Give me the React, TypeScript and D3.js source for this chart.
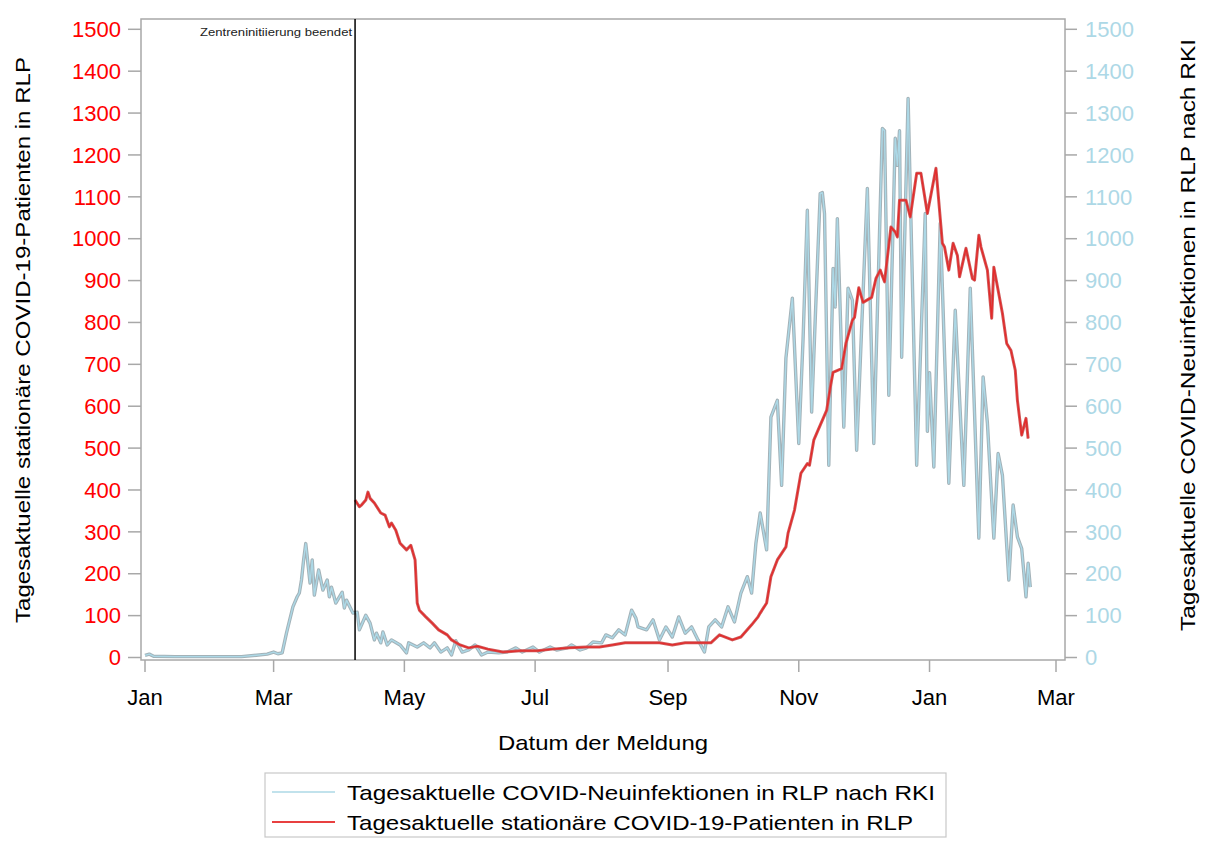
import React from "react";
import * as d3 from "d3";

// Tagesaktuelle COVID-Neuinfektionen in RLP nach RKI (blue, right axis)
const infections: [string, number][] = [
  ["2020-01-01", 5], ["2020-01-03", 8], ["2020-01-05", 3], ["2020-01-15", 2], ["2020-02-01", 2],
  ["2020-02-15", 2], ["2020-02-27", 8], ["2020-03-01", 13], ["2020-03-03", 9], ["2020-03-05", 11],
  ["2020-03-07", 58], ["2020-03-10", 121], ["2020-03-12", 145], ["2020-03-13", 154], ["2020-03-14", 185],
  ["2020-03-15", 233], ["2020-03-16", 272], ["2020-03-18", 178], ["2020-03-19", 233], ["2020-03-20", 149],
  ["2020-03-22", 209], ["2020-03-24", 161], ["2020-03-26", 185], ["2020-03-27", 145], ["2020-03-28", 168],
  ["2020-03-30", 130], ["2020-04-02", 156], ["2020-04-03", 118], ["2020-04-04", 137], ["2020-04-07", 106],
  ["2020-04-09", 108], ["2020-04-10", 66], ["2020-04-13", 101], ["2020-04-15", 82], ["2020-04-17", 42],
  ["2020-04-18", 58], ["2020-04-20", 35], ["2020-04-21", 61], ["2020-04-23", 30], ["2020-04-25", 42],
  ["2020-04-29", 30], ["2020-05-02", 11], ["2020-05-03", 35], ["2020-05-07", 25], ["2020-05-10", 35],
  ["2020-05-13", 23], ["2020-05-15", 35], ["2020-05-18", 13], ["2020-05-21", 23], ["2020-05-23", 6],
  ["2020-05-25", 40], ["2020-05-28", 13], ["2020-05-31", 18], ["2020-06-03", 30], ["2020-06-06", 6],
  ["2020-06-09", 13], ["2020-06-14", 11], ["2020-06-18", 13], ["2020-06-22", 23], ["2020-06-25", 13],
  ["2020-06-30", 25], ["2020-07-03", 13], ["2020-07-08", 25], ["2020-07-11", 18], ["2020-07-16", 23],
  ["2020-07-18", 30], ["2020-07-22", 18], ["2020-07-25", 23], ["2020-07-28", 37], ["2020-08-01", 35],
  ["2020-08-03", 54], ["2020-08-06", 47], ["2020-08-09", 66], ["2020-08-12", 54], ["2020-08-15", 113],
  ["2020-08-17", 94], ["2020-08-18", 73], ["2020-08-22", 66], ["2020-08-25", 90], ["2020-08-28", 42],
  ["2020-08-31", 73], ["2020-09-03", 49], ["2020-09-06", 97], ["2020-09-09", 58], ["2020-09-12", 73],
  ["2020-09-15", 42], ["2020-09-18", 13], ["2020-09-20", 73], ["2020-09-23", 90], ["2020-09-26", 73],
  ["2020-09-29", 121], ["2020-10-02", 85], ["2020-10-05", 154], ["2020-10-08", 193], ["2020-10-10", 154],
  ["2020-10-12", 273], ["2020-10-14", 345], ["2020-10-17", 257], ["2020-10-19", 574], ["2020-10-22", 614],
  ["2020-10-24", 411], ["2020-10-26", 715], ["2020-10-29", 858], ["2020-11-01", 511], ["2020-11-03", 760],
  ["2020-11-05", 1068], ["2020-11-07", 586], ["2020-11-09", 850], ["2020-11-11", 1108], ["2020-11-12", 1110],
  ["2020-11-13", 1060], ["2020-11-15", 459], ["2020-11-17", 929], ["2020-11-18", 837], ["2020-11-19", 1048],
  ["2020-11-22", 550], ["2020-11-24", 882], ["2020-11-26", 853], ["2020-11-28", 495], ["2020-12-03", 1120],
  ["2020-12-06", 511], ["2020-12-10", 1263], ["2020-12-11", 1258], ["2020-12-13", 626], ["2020-12-16", 1240],
  ["2020-12-17", 1175], ["2020-12-18", 1258], ["2020-12-19", 717], ["2020-12-20", 917], ["2020-12-22", 1335],
  ["2020-12-26", 459], ["2020-12-30", 1060], ["2020-12-31", 540], ["2021-01-01", 680], ["2021-01-03", 455],
  ["2021-01-06", 1037], ["2021-01-10", 416], ["2021-01-13", 829], ["2021-01-17", 411], ["2021-01-20", 882],
  ["2021-01-24", 285], ["2021-01-26", 670], ["2021-01-28", 560], ["2021-01-31", 285], ["2021-02-02", 487],
  ["2021-02-04", 435], ["2021-02-07", 185], ["2021-02-09", 364], ["2021-02-11", 288], ["2021-02-13", 260],
  ["2021-02-15", 145], ["2021-02-16", 225], ["2021-02-17", 168],
];

// Tagesaktuelle stationäre COVID-19-Patienten in RLP (red, left axis)
const patients: [string, number][] = [
  ["2020-04-08", 376], ["2020-04-10", 360], ["2020-04-11", 364], ["2020-04-13", 376], ["2020-04-14", 395],
  ["2020-04-15", 380], ["2020-04-17", 369], ["2020-04-20", 345], ["2020-04-22", 340], ["2020-04-24", 312],
  ["2020-04-25", 321], ["2020-04-27", 304], ["2020-04-29", 273], ["2020-05-02", 257], ["2020-05-04", 268],
  ["2020-05-06", 233], ["2020-05-07", 130], ["2020-05-08", 113], ["2020-05-11", 97], ["2020-05-14", 82],
  ["2020-05-17", 66], ["2020-05-21", 54], ["2020-05-23", 42], ["2020-05-27", 30], ["2020-05-31", 23],
  ["2020-06-04", 27], ["2020-06-09", 20], ["2020-06-16", 13], ["2020-06-24", 16], ["2020-07-02", 16],
  ["2020-07-09", 20], ["2020-07-17", 23], ["2020-07-25", 25], ["2020-07-31", 25], ["2020-08-06", 30],
  ["2020-08-12", 35], ["2020-08-22", 35], ["2020-08-28", 35], ["2020-09-03", 30], ["2020-09-09", 35],
  ["2020-09-17", 35], ["2020-09-21", 35], ["2020-09-25", 54], ["2020-10-01", 42], ["2020-10-05", 49],
  ["2020-10-10", 78], ["2020-10-13", 97], ["2020-10-14", 106], ["2020-10-17", 130], ["2020-10-19", 193],
  ["2020-10-22", 233], ["2020-10-26", 264], ["2020-10-27", 297], ["2020-10-30", 352], ["2020-11-02", 440],
  ["2020-11-05", 463], ["2020-11-06", 459], ["2020-11-08", 519], ["2020-11-10", 543], ["2020-11-14", 590],
  ["2020-11-16", 654], ["2020-11-17", 681], ["2020-11-21", 690], ["2020-11-23", 750], ["2020-11-26", 805],
  ["2020-11-27", 812], ["2020-11-29", 883], ["2020-12-01", 848], ["2020-12-05", 860], ["2020-12-07", 905],
  ["2020-12-09", 925], ["2020-12-11", 897], ["2020-12-14", 1028], ["2020-12-16", 1016], ["2020-12-17", 1004],
  ["2020-12-18", 1092], ["2020-12-21", 1092], ["2020-12-23", 1052], ["2020-12-26", 1156], ["2020-12-28", 1156],
  ["2020-12-31", 1060], ["2021-01-04", 1168], ["2021-01-07", 989], ["2021-01-08", 980], ["2021-01-10", 925],
  ["2021-01-12", 989], ["2021-01-14", 960], ["2021-01-15", 909], ["2021-01-18", 977], ["2021-01-21", 905],
  ["2021-01-22", 901], ["2021-01-24", 1008], ["2021-01-25", 980], ["2021-01-28", 925], ["2021-01-30", 810],
  ["2021-01-31", 932], ["2021-02-04", 822], ["2021-02-06", 750], ["2021-02-08", 733], ["2021-02-10", 686],
  ["2021-02-11", 614], ["2021-02-13", 531], ["2021-02-15", 571], ["2021-02-16", 523],
];

const xTickDates = ["2020-01-01", "2020-03-01", "2020-05-01", "2020-07-01", "2020-09-01", "2020-11-01", "2021-01-01", "2021-03-01"];
const xTickLabels = ["Jan", "Mar", "May", "Jul", "Sep", "Nov", "Jan", "Mar"];
const yTicks = [0, 100, 200, 300, 400, 500, 600, 700, 800, 900, 1000, 1100, 1200, 1300, 1400, 1500];
const markerDate = "2020-04-08";
const markerLabel = "Zentreninitiierung beendet";
const seriesLabels = [
  "Tagesaktuelle COVID-Neuinfektionen in RLP nach RKI",
  "Tagesaktuelle stationäre COVID-19-Patienten in RLP",
];
const leftTitle = "Tagesaktuelle stationäre COVID-19-Patienten in RLP";
const rightTitle = "Tagesaktuelle COVID-Neuinfektionen in RLP nach RKI";
const xTitle = "Datum der Meldung";

const parse = d3.timeParse("%Y-%m-%d");

export default function App() {
  const W = 1215, H = 843;
  const frame = { left: 141, right: 1065, top: 19, bottom: 660 };
  const x = d3.scaleTime().domain([parse("2020-01-01")!, parse("2021-03-01")!]).range([145, 1056]);
  const yL = d3.scaleLinear().domain([0, 1500]).range([657.5, 29.3]);
  const yR = d3.scaleLinear().domain([0, 1500]).range([657.5, 29.3]);

  const lineInf = d3.line<[string, number]>().x((d) => x(parse(d[0])!)).y((d) => yR(d[1]));
  const linePat = d3.line<[string, number]>().x((d) => x(parse(d[0])!)).y((d) => yL(d[1]));
  const mx = x(parse(markerDate)!);
  const font = "'Liberation Sans', Arial, sans-serif";
  const axisGray = "#a8a8a8";

  return (
    <svg width={W} height={H} style={{ position: "absolute", left: 0, top: 0, background: "#fff" }} fontFamily={font}>
      {/* frame */}
      <rect x={frame.left} y={frame.top} width={frame.right - frame.left} height={frame.bottom - frame.top}
        fill="none" stroke={axisGray} strokeWidth={1.5} />
      {/* left ticks */}
      {yTicks.map((t) => (
        <g key={"l" + t}>
          <line x1={128} x2={frame.left} y1={yL(t)} y2={yL(t)} stroke={axisGray} strokeWidth={1.5} />
          <text x={121} y={yL(t)} dy="0.35em" textAnchor="end" fontSize={22} fill="#ff0000">{t}</text>
        </g>
      ))}
      {/* right ticks */}
      {yTicks.map((t) => (
        <g key={"r" + t}>
          <line x1={frame.right} x2={1077} y1={yR(t)} y2={yR(t)} stroke={axisGray} strokeWidth={1.5} />
          <text x={1085} y={yR(t)} dy="0.35em" textAnchor="start" fontSize={22} fill="#add8e6">{t}</text>
        </g>
      ))}
      {/* x ticks */}
      {xTickDates.map((d, i) => {
        const px = x(parse(d)!);
        return (
          <g key={"x" + i}>
            <line x1={px} x2={px} y1={frame.bottom} y2={672} stroke={axisGray} strokeWidth={1.5} />
            <text x={px} y={705} textAnchor="middle" fontSize={22} fill="#000">{xTickLabels[i]}</text>
          </g>
        );
      })}
      {/* axis titles */}
      <text transform="translate(30,340) rotate(-90)" textAnchor="middle" fontSize={21} fill="#000"
        textLength={566} lengthAdjust="spacingAndGlyphs">{leftTitle}</text>
      <text transform="translate(1195,335) rotate(-90)" textAnchor="middle" fontSize={21} fill="#000"
        textLength={592} lengthAdjust="spacingAndGlyphs">{rightTitle}</text>
      <text x={603} y={750} textAnchor="middle" fontSize={21} fill="#000"
        textLength={210} lengthAdjust="spacingAndGlyphs">{xTitle}</text>

      {/* series */}
      <path d={lineInf(infections) || ""} fill="none" stroke="#a3b2b8" strokeWidth={3.4} strokeLinejoin="round" />
      <path d={lineInf(infections) || ""} fill="none" stroke="#acd8e6" strokeWidth={1.4} strokeLinejoin="round" />
      <path d={linePat(patients) || ""} fill="none" stroke="#cf5a5a" strokeWidth={3} strokeLinejoin="round" />
      <path d={linePat(patients) || ""} fill="none" stroke="#e42a2a" strokeWidth={1.3} strokeLinejoin="round" />

      {/* marker line */}
      <line x1={mx} x2={mx} y1={frame.top} y2={frame.bottom} stroke="#000" strokeWidth={1.5} />
      <text x={mx - 3} y={36} textAnchor="end" fontSize={11.5} fill="#222"
        textLength={152} lengthAdjust="spacingAndGlyphs">{markerLabel}</text>

      {/* legend */}
      <rect x={265} y={773} width={681} height={64} fill="#fff" stroke="#c8c8c8" strokeWidth={1.2} />
      <line x1={272} x2={335} y1={792} y2={792} stroke="#add8e6" strokeWidth={1.5} />
      <text x={347} y={800} fontSize={21} fill="#000" textLength={588} lengthAdjust="spacingAndGlyphs">{seriesLabels[0]}</text>
      <line x1={272} x2={335} y1={822} y2={822} stroke="#e00000" strokeWidth={1.5} />
      <text x={347} y={830} fontSize={21} fill="#000" textLength={566} lengthAdjust="spacingAndGlyphs">{seriesLabels[1]}</text>
    </svg>
  );
}
